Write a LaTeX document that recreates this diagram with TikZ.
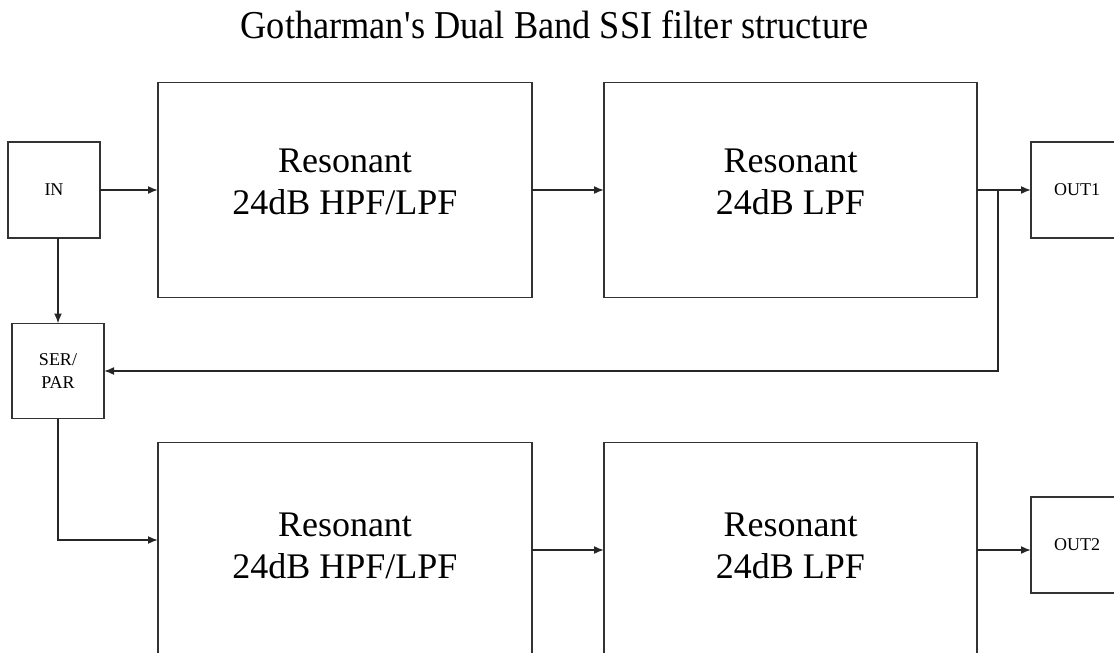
\documentclass[tikz,border=0pt]{standalone}
\usepackage{fontspec}
\setmainfont{Liberation Serif}
\newfontfamily\titlefont[FakeStretch=0.92]{Liberation Serif}
\usepackage{tkz-graph}
\usetikzlibrary{arrows.meta}

\tikzset{feed/.style={-{Latex[length=10pt,width=8pt]}}}

\begin{document}
\begin{tikzpicture}[x = 1pt, y = -1pt]
\tikzstyle{VertexStyle}=[
shape = rectangle,
draw = black!80,
line width = 1.7pt,
inner sep = 0pt,
align = center]
\tikzstyle{EdgeStyle}=[draw = black!85, line width = 1.7pt]
\tikzstyle{PortStyle}=[font = \fontsize{18}{23}\selectfont, minimum width = 92pt, minimum height = 96pt]
\tikzstyle{FilterStyle}=[font = \fontsize{36}{42}\selectfont, minimum width = 374pt, minimum height = 215pt]
\path[use as bounding box, clip] (0,0) rectangle (1114,653);
\node[anchor = base, font = \titlefont\fontsize{39.5}{45}\selectfont] (title) at (554.5,38) {Gotharman\textquotesingle s Dual Band SSI filter structure};
\Vertex[style = {PortStyle}, x = 54, y = 190, L = {IN}]{in}
\Vertex[style = {PortStyle, minimum height = 95pt}, x = 58, y = 371, L = {SER/\\PAR}]{serpar}
\Vertex[style = {PortStyle}, x = 1077, y = 190, L = {OUT1}]{out1}
\Vertex[style = {PortStyle}, x = 1077, y = 545, L = {OUT2}]{out2}
\Vertex[style = {FilterStyle, text depth = 17pt}, x = 345, y = 190, L = {Resonant\\24dB HPF/LPF}]{hpfA}
\Vertex[style = {FilterStyle, minimum width = 373pt, text depth = 17pt}, x = 790.5, y = 190, L = {Resonant\\24dB LPF}]{lpfA}
\Vertex[style = {FilterStyle, text depth = 8pt}, x = 345, y = 550, L = {Resonant\\24dB HPF/LPF}]{hpfB}
\Vertex[style = {FilterStyle, minimum width = 373pt, text depth = 8pt}, x = 790.5, y = 550, L = {Resonant\\24dB LPF}]{lpfB}
\coordinate (tap) at (998,190);
\Edge[style = {feed}](in)(hpfA)
\Edge[style = {feed}](hpfA)(lpfA)
\Edge[style = {feed}](lpfA)(out1)
\Edge[style = {feed}](hpfB)(lpfB)
\draw[EdgeStyle, feed] (lpfB) -- (lpfB -| out2.west);
\draw[EdgeStyle, feed] (in.south -| serpar.north) -- (serpar.north);
\draw[EdgeStyle, feed] (tap) |- (serpar.east);
\draw[EdgeStyle, feed] (serpar.south) |- ([yshift = 10pt]hpfB.west);
\end{tikzpicture}
\end{document}
